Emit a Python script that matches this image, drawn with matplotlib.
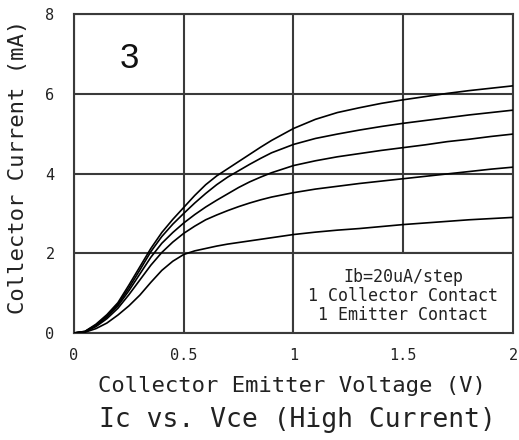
import matplotlib
matplotlib.use("Agg")
import matplotlib.pyplot as plt
from matplotlib.patches import Rectangle

# Vce sweep points (V)
vce = [0, 0.05, 0.1, 0.15, 0.2, 0.25, 0.3, 0.35, 0.4, 0.45, 0.5, 0.55, 0.6, 0.65,
       0.7, 0.75, 0.8, 0.85, 0.9, 1.0, 1.1, 1.2, 1.3, 1.4, 1.5, 1.6, 1.7, 1.8, 1.9, 2.0]

# collector current (mA), one curve per base current step (20uA .. 100uA)
ic_20 = [0, 0.02, 0.11, 0.25, 0.45, 0.68, 0.95, 1.27, 1.57, 1.80, 1.97, 2.06, 2.12, 2.18,
         2.23, 2.27, 2.31, 2.35, 2.39, 2.47, 2.53, 2.58, 2.62, 2.67, 2.72, 2.76, 2.80, 2.84, 2.87, 2.90]
ic_40 = [0, 0.03, 0.16, 0.36, 0.62, 0.96, 1.33, 1.70, 2.02, 2.28, 2.50, 2.68, 2.84, 2.96,
         3.07, 3.17, 3.26, 3.34, 3.41, 3.52, 3.61, 3.68, 3.75, 3.81, 3.87, 3.93, 3.99, 4.05, 4.11, 4.16]
ic_60 = [0, 0.03, 0.18, 0.40, 0.68, 1.06, 1.48, 1.90, 2.25, 2.52, 2.76, 2.97, 3.16, 3.33,
         3.49, 3.65, 3.79, 3.91, 4.02, 4.20, 4.32, 4.42, 4.50, 4.58, 4.65, 4.72, 4.80, 4.86, 4.93, 4.99]
ic_80 = [0, 0.04, 0.20, 0.43, 0.72, 1.13, 1.58, 2.04, 2.42, 2.73, 3.00, 3.26, 3.50, 3.72,
         3.91, 4.07, 4.23, 4.38, 4.52, 4.73, 4.88, 4.99, 5.09, 5.18, 5.26, 5.33, 5.40, 5.47, 5.53, 5.59]
ic_100 = [0, 0.04, 0.22, 0.46, 0.76, 1.20, 1.66, 2.12, 2.52, 2.85, 3.15, 3.45, 3.72, 3.94,
          4.12, 4.30, 4.48, 4.66, 4.83, 5.13, 5.36, 5.53, 5.65, 5.76, 5.85, 5.93, 6.01, 6.08, 6.14, 6.20]

xticks = [0, 0.5, 1, 1.5, 2]
xtick_labels = ["0", "0.5", "1", "1.5", "2"]
yticks = [0, 2, 4, 6, 8]
note_lines = ["Ib=20uA/step", "1 Collector Contact", "1 Emitter Contact"]

FONT = "DejaVu Sans Mono"
GRID_COLOR = "#3a3a3a"
TEXT_COLOR = "#222222"

fig = plt.figure(figsize=(5.19, 4.40), dpi=100)
ax = fig.add_axes([0.1426, 0.2432, 0.8458, 0.7248])

ax.set_xlim(0, 2)
ax.set_ylim(0, 8)
ax.set_xticks(xticks)
ax.set_xticklabels(xtick_labels)
ax.set_yticks(yticks)
ax.tick_params(axis="x", length=0, labelsize=11, pad=11, colors=TEXT_COLOR)
ax.tick_params(axis="y", length=0, labelsize=11, pad=14, colors=TEXT_COLOR)
for lbl in ax.get_xticklabels() + ax.get_yticklabels():
    lbl.set_family(FONT)

ax.set_axisbelow(True)
ax.grid(True, color=GRID_COLOR, lw=1.5)
for sp in ax.spines.values():
    sp.set_color(GRID_COLOR)
    sp.set_linewidth(1.5)

for ic in [ic_20, ic_40, ic_60, ic_80, ic_100]:
    ax.plot(vce, ic, color="black", lw=1.2, zorder=3)

# note box sits in the lower right grid cell
ax.add_patch(Rectangle((1, 0), 1, 2, facecolor="white", edgecolor=GRID_COLOR,
                       lw=1.5, zorder=4))
ax.text(1.5, 0.93, "\n".join(note_lines), ha="center", va="center",
        family=FONT, fontsize=12, linespacing=1.1, color=TEXT_COLOR, zorder=5)

ax.text(0.25, 6.88, "3", ha="center", va="center", fontsize=25,
        family="Liberation Sans", color="#111111")

ax.set_xlabel("Collector Emitter Voltage (V)", family=FONT, fontsize=16,
              color=TEXT_COLOR)
ax.xaxis.set_label_coords(0.497, -0.135)
ax.set_ylabel("Collector Current (mA)", family=FONT, fontsize=16,
              color=TEXT_COLOR)
ax.yaxis.set_label_coords(-0.105, 0.52)
fig.text(0.573, 0.045, "Ic vs. Vce (High Current)", ha="center", va="center",
         family=FONT, fontsize=19, color=TEXT_COLOR)

fig.savefig("out.png", dpi=100)
